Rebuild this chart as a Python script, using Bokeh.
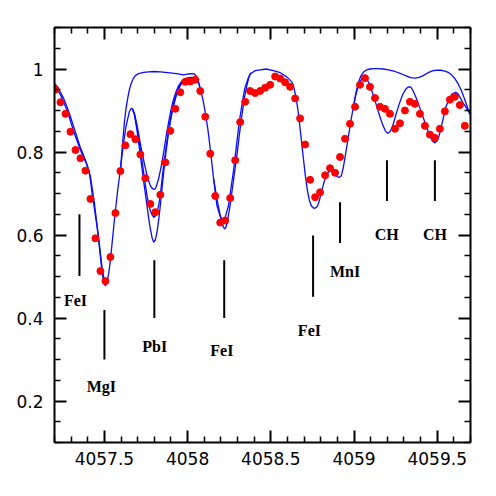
from bokeh.plotting import figure
from bokeh.models import FixedTicker, LinearAxis, Range1d, CustomJSTickFormatter
from bokeh.embed import file_html
from bokeh.resources import INLINE
from bokeh.core.properties import value

# ---------------- observed spectrum (red dots) ----------------
obs_wl = [4057.206, 4057.236, 4057.266, 4057.296, 4057.326, 4057.356, 4057.386, 4057.416, 4057.446, 4057.476,
          4057.506, 4057.536, 4057.566, 4057.596, 4057.626, 4057.656, 4057.686, 4057.716, 4057.746, 4057.776,
          4057.806, 4057.836, 4057.866, 4057.896, 4057.926, 4057.956, 4057.986, 4058.016, 4058.046, 4058.076,
          4058.106, 4058.136, 4058.166, 4058.196, 4058.226, 4058.256, 4058.286, 4058.316, 4058.346, 4058.376,
          4058.406, 4058.436, 4058.466, 4058.496, 4058.526, 4058.556, 4058.586, 4058.616, 4058.646, 4058.676,
          4058.706, 4058.736, 4058.766, 4058.796, 4058.826, 4058.856, 4058.886, 4058.916, 4058.946, 4058.976,
          4059.006, 4059.036, 4059.066, 4059.096, 4059.126, 4059.156, 4059.186, 4059.216, 4059.246, 4059.276,
          4059.306, 4059.336, 4059.366, 4059.396, 4059.426, 4059.456, 4059.486, 4059.516, 4059.546, 4059.576,
          4059.606, 4059.636, 4059.666]
obs_flux = [0.950, 0.920, 0.892, 0.849, 0.805, 0.785, 0.755, 0.687, 0.592, 0.513,
            0.489, 0.547, 0.653, 0.754, 0.816, 0.843, 0.831, 0.794, 0.737, 0.675,
            0.655, 0.697, 0.775, 0.851, 0.904, 0.944, 0.969, 0.970, 0.974, 0.947,
            0.885, 0.796, 0.694, 0.630, 0.635, 0.689, 0.780, 0.872, 0.921, 0.947,
            0.942, 0.947, 0.955, 0.962, 0.982, 0.977, 0.968, 0.957, 0.929, 0.881,
            0.818, 0.733, 0.691, 0.703, 0.744, 0.761, 0.750, 0.788, 0.832, 0.868,
            0.909, 0.962, 0.978, 0.957, 0.930, 0.909, 0.904, 0.892, 0.856, 0.869,
            0.900, 0.921, 0.916, 0.892, 0.863, 0.842, 0.834, 0.856, 0.898, 0.926,
            0.933, 0.913, 0.863]

# ---------------- synthetic spectra (blue lines) ----------------
# main synthesis (intermediate Pb abundance)
syn_wl = [4057.200, 4057.218, 4057.236, 4057.256, 4057.276, 4057.296, 4057.316, 4057.336, 4057.356, 4057.372,
          4057.386, 4057.396, 4057.406, 4057.416, 4057.426, 4057.441, 4057.456, 4057.466, 4057.476, 4057.486,
          4057.496, 4057.506, 4057.516, 4057.526, 4057.536, 4057.551, 4057.566, 4057.581, 4057.596, 4057.608,
          4057.620, 4057.630, 4057.640, 4057.650, 4057.660, 4057.668, 4057.680, 4057.696, 4057.706, 4057.716,
          4057.726, 4057.734, 4057.746, 4057.756, 4057.766, 4057.776, 4057.786, 4057.796, 4057.806, 4057.816,
          4057.826, 4057.836, 4057.846, 4057.856, 4057.872, 4057.886, 4057.896, 4057.906, 4057.916, 4057.926,
          4057.946, 4057.968, 4057.992, 4058.016, 4058.040, 4058.058, 4058.068, 4058.076, 4058.091, 4058.106,
          4058.121, 4058.136, 4058.156, 4058.176, 4058.196, 4058.212, 4058.226, 4058.246, 4058.256, 4058.276,
          4058.286, 4058.306, 4058.316, 4058.336, 4058.346, 4058.366, 4058.376, 4058.406, 4058.436, 4058.472,
          4058.516, 4058.552, 4058.596, 4058.626, 4058.636, 4058.646, 4058.656, 4058.666, 4058.686, 4058.706,
          4058.720, 4058.732, 4058.744, 4058.756, 4058.768, 4058.780, 4058.793, 4058.806, 4058.821, 4058.836,
          4058.848, 4058.860, 4058.873, 4058.886, 4058.900, 4058.912, 4058.924, 4058.936, 4058.951, 4058.966,
          4058.981, 4058.996, 4059.011, 4059.026, 4059.041, 4059.056, 4059.066, 4059.076, 4059.092, 4059.112,
          4059.132, 4059.152, 4059.172, 4059.188, 4059.202, 4059.216, 4059.232, 4059.252, 4059.272, 4059.292,
          4059.312, 4059.327, 4059.342, 4059.357, 4059.372, 4059.392, 4059.412, 4059.432, 4059.452, 4059.470,
          4059.486, 4059.500, 4059.512, 4059.532, 4059.552, 4059.572, 4059.592, 4059.612, 4059.627, 4059.642,
          4059.657, 4059.672, 4059.700]
syn_flux = [0.965, 0.957, 0.944, 0.928, 0.908, 0.885, 0.860, 0.835, 0.810, 0.795,
            0.780, 0.769, 0.756, 0.732, 0.700, 0.660, 0.619, 0.585, 0.547, 0.510,
            0.485, 0.478, 0.487, 0.508, 0.539, 0.600, 0.659, 0.712, 0.756, 0.800,
            0.836, 0.862, 0.880, 0.897, 0.905, 0.904, 0.893, 0.860, 0.834, 0.806,
            0.779, 0.756, 0.721, 0.695, 0.674, 0.659, 0.649, 0.643, 0.645, 0.655,
            0.671, 0.697, 0.733, 0.768, 0.816, 0.853, 0.877, 0.900, 0.918, 0.932,
            0.956, 0.971, 0.978, 0.980, 0.979, 0.972, 0.964, 0.952, 0.928, 0.896,
            0.857, 0.808, 0.736, 0.671, 0.645, 0.635, 0.643, 0.671, 0.700, 0.756,
            0.790, 0.858, 0.888, 0.937, 0.957, 0.980, 0.988, 0.996, 0.998, 1.000,
            0.996, 0.992, 0.981, 0.969, 0.960, 0.942, 0.920, 0.892, 0.820, 0.748,
            0.707, 0.683, 0.670, 0.665, 0.665, 0.669, 0.685, 0.707, 0.729, 0.744,
            0.752, 0.756, 0.753, 0.746, 0.740, 0.739, 0.743, 0.763, 0.800, 0.836,
            0.875, 0.908, 0.938, 0.960, 0.973, 0.979, 0.980, 0.977, 0.964, 0.942,
            0.916, 0.889, 0.866, 0.851, 0.845, 0.849, 0.862, 0.890, 0.916, 0.938,
            0.952, 0.957, 0.956, 0.946, 0.932, 0.910, 0.888, 0.864, 0.843, 0.827,
            0.822, 0.827, 0.840, 0.874, 0.908, 0.930, 0.941, 0.944, 0.939, 0.928,
            0.917, 0.908, 0.890]

# weaker Pb synthesis around the PbI line
pb_low_wl = [4057.668, 4057.680, 4057.696, 4057.711, 4057.726, 4057.741, 4057.756, 4057.766, 4057.776, 4057.786,
             4057.796, 4057.804, 4057.812, 4057.826, 4057.841, 4057.856, 4057.871, 4057.886, 4057.901, 4057.916,
             4057.931, 4057.946, 4057.968]
pb_low_flux = [0.904, 0.893, 0.864, 0.831, 0.799, 0.770, 0.744, 0.730, 0.719, 0.713,
               0.710, 0.711, 0.717, 0.736, 0.765, 0.799, 0.838, 0.872, 0.904, 0.928,
               0.946, 0.960, 0.972]

# stronger Pb synthesis around the PbI line
pb_high_wl = [4057.668, 4057.680, 4057.696, 4057.711, 4057.726, 4057.741, 4057.756, 4057.766, 4057.776, 4057.786,
              4057.796, 4057.806, 4057.816, 4057.826, 4057.836, 4057.846, 4057.856, 4057.871, 4057.886, 4057.901,
              4057.916, 4057.931, 4057.946, 4057.968]
pb_high_flux = [0.904, 0.890, 0.852, 0.806, 0.760, 0.714, 0.671, 0.640, 0.615, 0.594,
                0.583, 0.588, 0.607, 0.636, 0.671, 0.712, 0.751, 0.803, 0.848, 0.884,
                0.912, 0.935, 0.952, 0.969]

# stronger Pb synthesis: MgI wing and FeI 4058.22 core
pb_high_mg_wl = [4057.200, 4057.236, 4057.276, 4057.316, 4057.356, 4057.392, 4057.416, 4057.440, 4057.464, 4057.485,
                 4057.503]
pb_high_mg_flux = [0.962, 0.938, 0.900, 0.849, 0.804, 0.772, 0.741, 0.676, 0.597, 0.525,
                   0.479]
pb_high_fe_wl = [4058.156, 4058.178, 4058.202, 4058.214, 4058.222, 4058.230, 4058.238, 4058.252, 4058.266, 4058.281,
                 4058.296, 4058.311, 4058.326, 4058.341, 4058.356, 4058.368, 4058.380]
pb_high_fe_flux = [0.736, 0.683, 0.635, 0.620, 0.615, 0.618, 0.631, 0.663, 0.703, 0.748,
                   0.792, 0.842, 0.888, 0.930, 0.960, 0.979, 0.991]

# synthesis without Pb
nopb_wl = [4057.596, 4057.608, 4057.620, 4057.630, 4057.640, 4057.650, 4057.660, 4057.672, 4057.686, 4057.706,
           4057.736, 4057.766, 4057.796, 4057.836, 4057.866, 4057.908, 4057.944, 4057.974, 4058.006, 4058.026,
           4058.040, 4058.050, 4058.058, 4058.068, 4058.076]
nopb_flux = [0.756, 0.816, 0.871, 0.905, 0.930, 0.950, 0.964, 0.976, 0.984, 0.989,
             0.992, 0.993, 0.994, 0.993, 0.992, 0.990, 0.988, 0.986, 0.988, 0.989,
             0.988, 0.984, 0.977, 0.966, 0.952]
# synthesis without CH
noch_wl = [4058.996, 4059.011, 4059.026, 4059.041, 4059.056, 4059.076, 4059.096, 4059.120, 4059.144, 4059.176,
           4059.206, 4059.246, 4059.286, 4059.316, 4059.341, 4059.366, 4059.391, 4059.416, 4059.436, 4059.456,
           4059.476, 4059.498, 4059.522, 4059.546, 4059.566, 4059.586, 4059.606, 4059.626, 4059.641, 4059.656,
           4059.670, 4059.684, 4059.700]
noch_flux = [0.908, 0.942, 0.967, 0.983, 0.992, 0.998, 1.000, 1.001, 1.001, 1.000,
             0.998, 0.994, 0.988, 0.983, 0.979, 0.978, 0.980, 0.984, 0.989, 0.993,
             0.996, 0.997, 0.997, 0.995, 0.992, 0.986, 0.977, 0.964, 0.952, 0.937,
             0.921, 0.905, 0.890]

# ---------------- line identifications ----------------
id_names = ["FeI", "MgI", "PbI", "FeI", "FeI", "MnI", "CH", "CH"]
id_wl = [4057.350, 4057.500, 4057.800, 4058.220, 4058.754, 4058.916, 4059.198, 4059.486]
id_top = [0.650, 0.419, 0.539, 0.539, 0.599, 0.679, 0.780, 0.780]
id_bottom = [0.501, 0.300, 0.400, 0.400, 0.451, 0.581, 0.682, 0.682]
id_label_x = [4057.326, 4057.482, 4057.802, 4058.206, 4058.732, 4058.946, 4059.196, 4059.486]
id_label_y = [0.442, 0.236, 0.332, 0.321, 0.371, 0.513, 0.602, 0.602]

# ---------------- ticks ----------------
x_major = [4057.5, 4058.0, 4058.5, 4059.0, 4059.5]
x_major_labels = ["4057.5", "4058", "4058.5", "4059", "4059.5"]
x_minor = [4057.2, 4057.3, 4057.4, 4057.6, 4057.7, 4057.8, 4057.9, 4058.1, 4058.2, 4058.3, 4058.4,
           4058.6, 4058.7, 4058.8, 4058.9, 4059.1, 4059.2, 4059.3, 4059.4, 4059.6, 4059.7]
y_major = [0.2, 0.4, 0.6, 0.8, 1.0]
y_major_labels = ["0.2", "0.4", "0.6", "0.8", "1"]
y_minor = [0.1, 0.15, 0.25, 0.3, 0.35, 0.45, 0.5, 0.55, 0.65, 0.7, 0.75, 0.85, 0.9, 0.95, 1.05, 1.1]

p = figure(frame_width=416, frame_height=415,
           x_range=Range1d(4057.2, 4059.7), y_range=Range1d(0.1, 1.1),
           output_backend="svg", toolbar_location=None,
           min_border_left=54, min_border_right=12, min_border_top=27, min_border_bottom=34)
p.grid.visible = False
p.outline_line_color = None
p.background_fill_color = "white"
p.border_fill_color = "white"

xt = FixedTicker(ticks=x_major, minor_ticks=x_minor)
yt = FixedTicker(ticks=y_major, minor_ticks=y_minor)
blank = CustomJSTickFormatter(code="return ''")


def style(ax):
    ax.axis_line_width = 2
    ax.axis_line_color = "black"
    ax.major_tick_in = 12
    ax.major_tick_out = 0
    ax.minor_tick_in = 6
    ax.minor_tick_out = 0
    ax.major_tick_line_width = 2
    ax.minor_tick_line_width = 1.5
    ax.major_tick_line_color = "black"
    ax.minor_tick_line_color = "black"
    ax.major_label_text_font = "DejaVu Sans"
    ax.major_label_text_font_size = "17px"
    ax.major_label_text_color = "black"


p.xaxis.ticker = xt
p.yaxis.ticker = yt
p.xaxis.major_label_overrides = dict(zip(x_major, x_major_labels))
p.yaxis.major_label_overrides = dict(zip(y_major, y_major_labels))
style(p.xaxis[0])
style(p.yaxis[0])
p.xaxis.major_label_standoff = 9
p.yaxis.major_label_standoff = 11

top = LinearAxis(ticker=xt, formatter=blank, major_label_standoff=0)
right = LinearAxis(ticker=yt, formatter=blank, major_label_standoff=0)
style(top)
style(right)
p.add_layout(top, "above")
p.add_layout(right, "right")

blue = "#0a0aff"
for xs, ys in [(syn_wl, syn_flux), (pb_low_wl, pb_low_flux), (pb_high_wl, pb_high_flux),
               (pb_high_mg_wl, pb_high_mg_flux), (pb_high_fe_wl, pb_high_fe_flux),
               (nopb_wl, nopb_flux), (noch_wl, noch_flux)]:
    p.line(xs, ys, line_color=blue, line_width=1.3, line_join="round")

p.scatter(obs_wl, obs_flux, size=7, color="#ff0000", line_color="#ff0000")

p.segment(x0=id_wl, y0=id_bottom, x1=id_wl, y1=id_top, line_color="black", line_width=2)
p.text(x=id_label_x, y=id_label_y, text=id_names, text_align="center", text_baseline="middle",
       text_font=value("Liberation Serif"), text_font_style="bold", text_font_size="16px",
       text_color="black")

open("out.html", "w").write(file_html(p, INLINE))
